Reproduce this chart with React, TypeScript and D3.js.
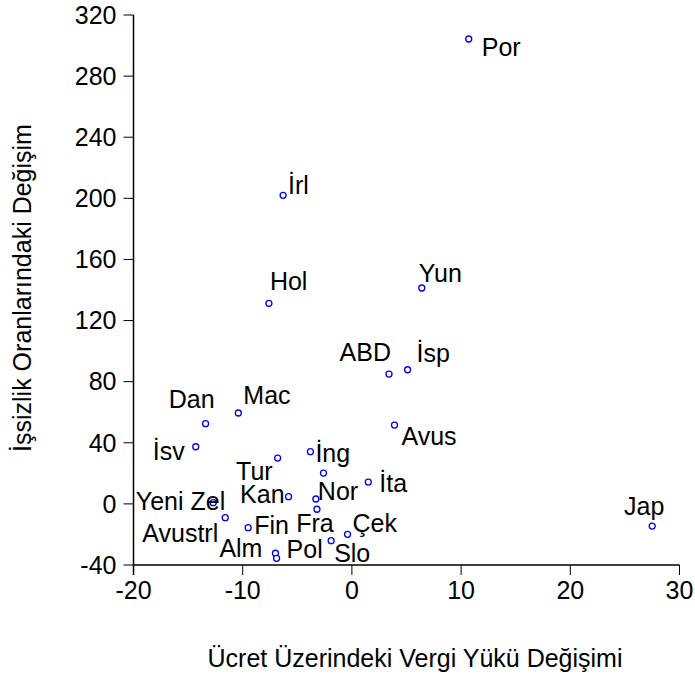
import React from 'react'
import * as d3 from 'd3'

// country labels (Turkish abbreviations)
const countries = [
  'Por', 'İrl', 'Hol', 'Yun', 'ABD', 'İsp', 'Dan', 'Mac', 'İsv', 'Avus', 'İng', 'Tur', '',
  'İta', 'Kan', 'Nor', 'Yeni Zel', 'Fra', 'Avustrl', 'Fin', 'Çek', 'Slo', 'Alm', 'Pol', 'Jap',
]
// change in tax wedge on wages
const taxChange = [
  10.7, -6.3, -7.6, 6.4, 3.4, 5.1, -13.4, -10.4, -14.3, 3.9, -3.8, -6.8, -2.6,
  1.5, -5.8, -3.3, -12.7, -3.2, -11.6, -9.5, -0.4, -1.9, -7.0, -6.9, 27.5,
]
// change in unemployment rate
const unempChange = [
  304.3, 202, 131.3, 141.3, 85, 87.8, 52.5, 59.5, 37.4, 51.6, 34.2, 30, 20.2,
  14.3, 4.7, 3.2, 0.8, -3.5, -9, -15.6, -19.9, -24.1, -32.3, -35.6, -14.5,
]
const xTicks = [-20, -10, 0, 10, 20, 30]
const yTicks = [-40, 0, 40, 80, 120, 160, 200, 240, 280, 320]

// label nudges relative to each point: [anchor, dx, dy]
const labelPlacement: [string, number, number][] = [
  ['start', 13, 17], ['start', 5, -1], ['start', 1, -13], ['start', -3, -6],
  ['end', 2, -13], ['start', 9, -8], ['end', 9, -16], ['start', 5, -9],
  ['end', -11, 13], ['start', 7, 20], ['start', 5, 10], ['end', -5, 22], ['start', 0, 0],
  ['start', 11, 10], ['end', -4, 6], ['start', 2, 1], ['end', 12, 7],
  ['middle', -2, 23], ['end', -7, 24], ['start', 6, 6], ['start', 5, -2],
  ['start', 3, 21], ['end', -13, 4], ['start', 10, 0], ['middle', -8, -11],
]

const W = 695
const H = 680
const FONT = 'Arial, "Liberation Sans", sans-serif'
const FS = 25

const App = () => {
  const x = d3.scaleLinear().domain([-20, 30]).range([133.5, 679.5])
  const y = d3.scaleLinear().domain([-40, 320]).range([565, 15])
  const tick = 10

  return (
    <svg width={W} height={H} style={{ display: 'block', position: 'absolute', left: 0, top: 0 }}>
      <rect width={W} height={H} fill="#fff" />
      <g fontFamily={FONT} fontSize={FS} fill="#000">
        {/* axes */}
        <line x1={x(-20)} x2={x(-20)} y1={y(320)} y2={y(-40) + tick} stroke="#000" strokeWidth={1.5} />
        <line x1={x(-20)} x2={x(30)} y1={y(-40)} y2={y(-40)} stroke="#000" strokeWidth={1.5} />
        {yTicks.map((t) => (
          <g key={'y' + t}>
            <line x1={x(-20) - tick} x2={x(-20)} y1={y(t)} y2={y(t)} stroke="#000" strokeWidth={1} />
            <text x={x(-20) - 17} y={y(t)} dy="0.35em" textAnchor="end">{t}</text>
          </g>
        ))}
        {xTicks.map((t) => (
          <g key={'x' + t}>
            <line x1={x(t)} x2={x(t)} y1={y(-40)} y2={y(-40) + tick} stroke="#000" strokeWidth={1} />
            <text x={x(t)} y={y(-40) + 34} textAnchor="middle">{t}</text>
          </g>
        ))}
        <text x={415} y={667} textAnchor="middle">Ücret Üzerindeki Vergi Yükü Değişimi</text>
        <text transform={`translate(31, 288) rotate(-90)`} textAnchor="middle">İşsizlik Oranlarındaki Değişim</text>

        {/* points */}
        {countries.map((c, i) => {
          const px = x(taxChange[i])
          const py = y(unempChange[i])
          const [anchor, dx, dy] = labelPlacement[i]
          return (
            <g key={i}>
              <circle cx={px} cy={py} r={3} fill="#fff" stroke="#0000ff" strokeWidth={1.3} />
              {c && (
                <text x={px + dx} y={py + dy} textAnchor={anchor}>{c}</text>
              )}
            </g>
          )
        })}
      </g>
    </svg>
  )
}

export default App
